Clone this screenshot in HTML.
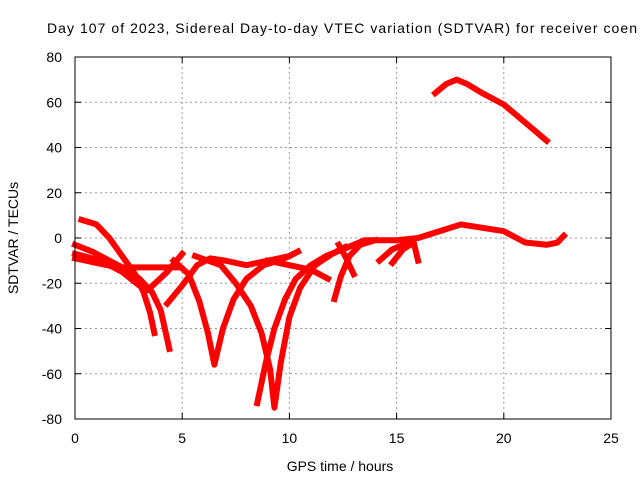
<!DOCTYPE html>
<html><head><meta charset="utf-8"><style>
body{margin:0;background:#fff}
svg{display:block;font-family:"Liberation Sans",sans-serif}
</style></head><body>
<svg id="chart" width="640" height="480" viewBox="0 0 640 480">
<rect width="640" height="480" fill="#fff"/>
<text x="47" y="33" font-size="14" fill="#000" textLength="590" lengthAdjust="spacing">Day 107 of 2023, Sidereal Day-to-day VTEC variation (SDTVAR) for receiver coen</text>
<g id="grid"></g>
<g id="series"></g>
<rect x="75" y="57" width="536" height="362" fill="none" stroke="#000" stroke-width="1"/>
<g id="ticks"></g>
<text x="340" y="471" font-size="14" text-anchor="middle">GPS time / hours</text>
<text x="0" y="0" font-size="14" text-anchor="middle" transform="translate(18,238) rotate(-90)">SDTVAR / TECUs</text>
</svg>
<script>
const xTicks=[0,5,10,15,20,25];
const yTicks=[-80,-60,-40,-20,0,20,40,60,80];
const trackA=[[0.3,8],[1,6],[1.6,0],[2.2,-8],[2.8,-16],[3.2,-24],[3.5,-33],[3.7,-42]];
const trackB=[[0,-3],[0.8,-6],[1.6,-10],[2.4,-14],[3,-18],[3.6,-24],[4,-32],[4.4,-49]];
const trackC=[[0,-9],[1,-11],[2,-13],[3,-13],[4,-13],[4.8,-13]];
const trackD=[[0,-7],[1.2,-10],[2.2,-15],[3,-21],[3.4,-23],[4.3,-15],[5,-7]];
const trackE=[[4.3,-29],[5,-21],[5.7,-12],[6.3,-9],[7,-10],[8,-12],[9,-10],[10,-8],[10.4,-6]];
const trackF=[[4.6,-10],[5.3,-16],[5.8,-28],[6.2,-42],[6.5,-56],[6.9,-40],[7.4,-27],[8,-18],[8.8,-12],[9.5,-10],[10,-8],[10.4,-6]];
const trackG=[[5.6,-8],[6.8,-12],[7.5,-20],[8.2,-30],[8.7,-42],[9.1,-58],[9.3,-75],[9.6,-55],[10,-35],[10.5,-22],[11.2,-12],[12,-7],[12.6,-4]];
const trackH=[[8.5,-73],[8.9,-55],[9.3,-40],[9.8,-27],[10.3,-18],[11,-12],[11.7,-8],[12.5,-5],[13.5,-1],[15,-1],[16,0],[17,3],[18,6],[19,4.5],[20,3],[20.6,0],[21,-2],[22,-3],[22.5,-2],[22.8,1]];
const trackI=[[9,-10],[10,-12],[11,-14],[11.8,-18]];
const trackJ=[[12.1,-27],[12.4,-17],[12.8,-8],[13.3,-3],[14,-1]];
const trackK=[[12.3,-3],[12.6,-8],[13,-16]];
const trackL=[[14.2,-10],[14.8,-5],[15.6,-2]];
const trackM=[[14.8,-11],[15.3,-5],[15.8,-2],[16,-10]];
const trackN=[[16.8,64],[17.3,68],[17.8,70],[18.3,68],[19,64],[20,59],[21,51],[22,43]];
const tracks=[trackA,trackB,trackC,trackD,trackE,trackF,trackG,trackH,trackI,trackJ,trackK,trackL,trackM,trackN];
const X=h=>75+h*536/25, Y=v=>238-v*362/160;
const NS="http://www.w3.org/2000/svg";
const grid=document.getElementById('grid'),ticks=document.getElementById('ticks'),ser=document.getElementById('series');
function mk(t,a,p){const e=document.createElementNS(NS,t);for(const k in a)e.setAttribute(k,a[k]);p.appendChild(e);return e;}
xTicks.forEach(t=>{const x=X(t);
 if(t>0&&t<25){const g=mk('line',{x1:x,x2:x,y1:57,y2:419,stroke:'#999','stroke-dasharray':'2,3'},grid);
 
 }
 mk('line',{x1:x,x2:x,y1:419,y2:413,stroke:'#000'},ticks);mk('line',{x1:x,x2:x,y1:57,y2:63,stroke:'#000'},ticks);
 const l=mk('text',{x:x,y:443,'font-size':14,'text-anchor':'middle'},ticks);l.textContent=t;
 
 });
yTicks.forEach(t=>{const y=Y(t);
 if(t>-80&&t<80){const g=mk('line',{x1:75,x2:611,y1:y,y2:y,stroke:'#999','stroke-dasharray':'2,3'},grid);
 
 }
 mk('line',{x1:75,x2:81,y1:y,y2:y,stroke:'#000'},ticks);mk('line',{x1:605,x2:611,y1:y,y2:y,stroke:'#000'},ticks);
 const l=mk('text',{x:62,y:y+5,'font-size':14,'text-anchor':'end'},ticks);l.textContent=t;
 
 });
tracks.forEach(tr=>{const p=mk('polyline',{points:tr.map(d=>X(d[0])+','+Y(d[1])).join(' '),fill:'none',stroke:'#f00','stroke-width':6,'stroke-linejoin':'round','stroke-linecap':'square'},ser);
 
 });
</script>
</body></html>
